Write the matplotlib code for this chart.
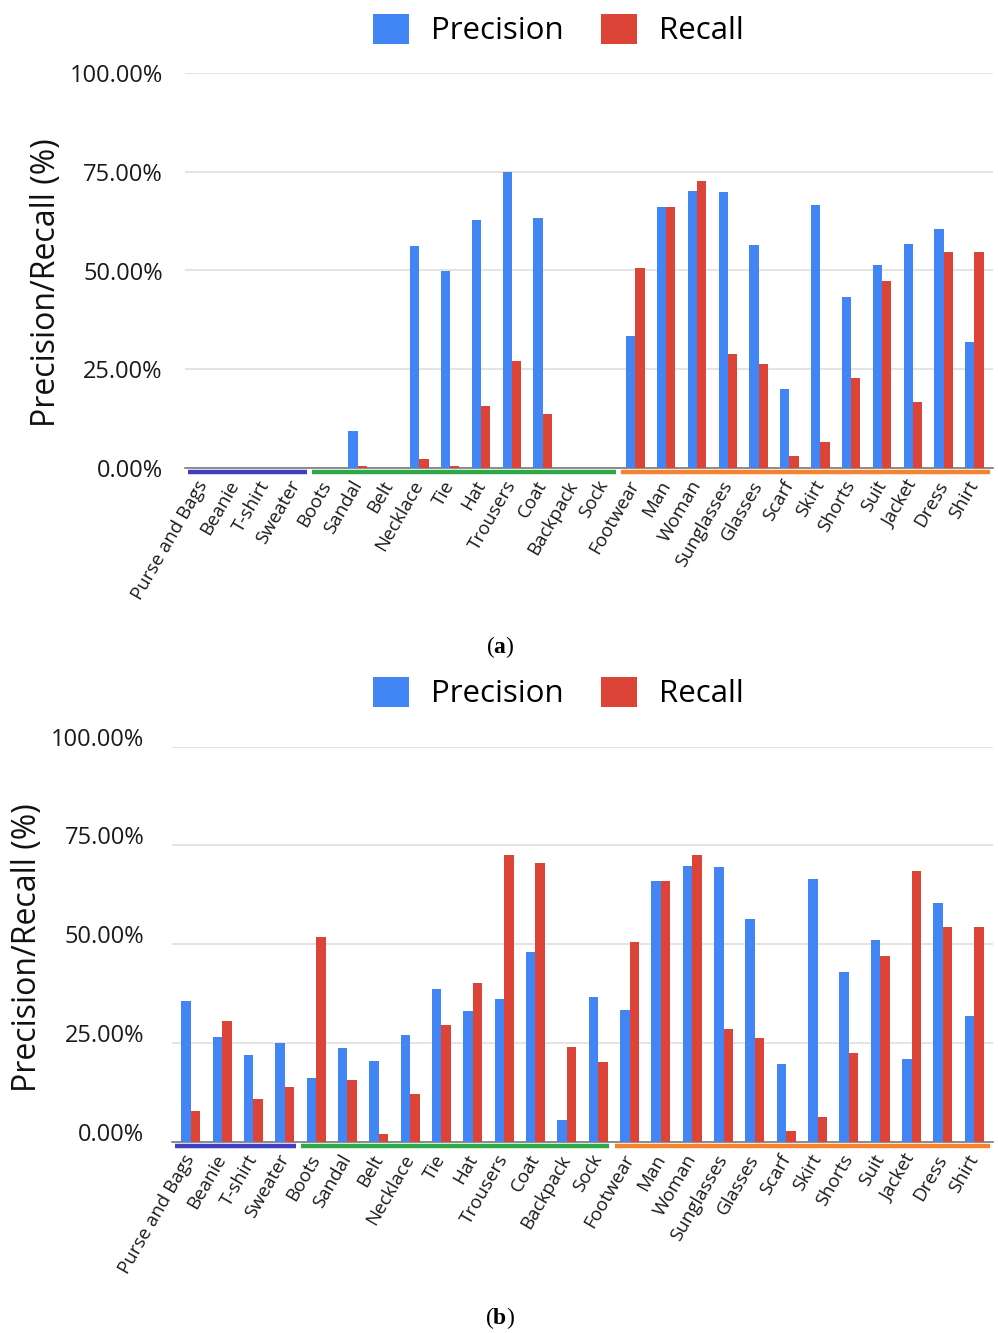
import matplotlib
matplotlib.use("Agg")
import matplotlib.pyplot as plt
import matplotlib.transforms as mtransforms
import numpy as np

plt.rcParams['font.family'] = ['Open Sans', 'DejaVu Sans']
plt.rcParams['mathtext.fontset'] = 'custom'
plt.rcParams['mathtext.bf'] = 'Liberation Serif:bold'

categories = ['Purse and Bags', 'Beanie', 'T-shirt', 'Sweater', 'Boots', 'Sandal', 'Belt',
              'Necklace', 'Tie', 'Hat', 'Trousers', 'Coat', 'Backpack', 'Sock', 'Footwear',
              'Man', 'Woman', 'Sunglasses', 'Glasses', 'Scarf', 'Skirt', 'Shorts', 'Suit',
              'Jacket', 'Dress', 'Shirt']

precision_a = [0, 0, 0, 0, 0, 9.3, 0, 56.1, 49.9, 62.9, 75.0, 63.2, 0, 0,
               33.5, 66.1, 70.1, 69.8, 56.4, 19.9, 66.5, 43.4, 51.5, 56.6, 60.6, 31.9]
recall_a = [0, 0, 0, 0, 0, 0.6, 0, 2.3, 0.6, 15.7, 27.2, 13.6, 0, 0,
            50.7, 66.1, 72.7, 28.8, 26.4, 3.0, 6.5, 22.8, 47.3, 16.7, 54.6, 54.6]

precision_b = [35.6, 26.5, 21.9, 25.0, 16.2, 23.8, 20.5, 27.0, 38.6, 33.1, 36.1, 48.0, 5.5, 36.6,
               33.3, 66.0, 69.8, 69.5, 56.3, 19.6, 66.5, 43.1, 51.0, 21.0, 60.4, 31.8]
recall_b = [7.8, 30.6, 10.8, 13.9, 51.8, 15.6, 2.1, 12.2, 29.7, 40.2, 72.6, 70.6, 24.0, 20.2,
            50.5, 66.0, 72.6, 28.5, 26.3, 2.8, 6.3, 22.5, 47.0, 68.5, 54.3, 54.3]

group_sizes = [4, 10, 12]
group_colors = ['#3f3fc0', '#2fa84a', '#f5822e']
yticks = [0, 25, 50, 75, 100]

BLUE = '#4285f4'
RED = '#db4437'


def disegna_pannello(ax, prec, rec, tick_pad, label_shift):
    x = np.arange(len(categories))
    w = 0.3
    ax.bar(x - w / 2, prec, width=w, color=BLUE, label='Precision', zorder=3)
    ax.bar(x + w / 2, rec, width=w, color=RED, label='Recall', zorder=3)
    ax.set_xlim(-0.6, len(categories) - 0.4)
    ax.set_ylim(0, 100)
    ax.set_yticks(yticks)
    ax.set_yticklabels([f'{v:.2f}%' for v in yticks], fontsize=17, color='#1a1a1a')
    ax.grid(axis='y', color='#dcdcdc', linewidth=1.1, zorder=0)
    ax.set_axisbelow(True)
    for s in ['top', 'right', 'left']:
        ax.spines[s].set_visible(False)
    ax.spines['bottom'].set_color('#7a7a7a')
    ax.spines['bottom'].set_linewidth(1.2)
    ax.tick_params(axis='y', length=0, pad=tick_pad)
    ax.tick_params(axis='x', length=0, pad=10)
    ax.set_xticks(x)
    ax.set_xticklabels(categories, rotation=60, ha='right', va='center',
                       rotation_mode='anchor', fontsize=13.5, color='#1a1a1a')
    if label_shift:
        off = mtransforms.ScaledTranslation(0, label_shift / 100, ax.figure.dpi_scale_trans)
        for lab in ax.get_yticklabels():
            lab.set_transform(lab.get_transform() + off)

    # linee colorate dei gruppi sotto l'asse
    start = -0.5
    for i, (n, c) in enumerate(zip(group_sizes, group_colors)):
        end = start + n
        x0 = start + (0.03 if i > 0 else 0.0)
        x1 = end - (0.14 if i < len(group_sizes) - 1 else 0.0)
        ax.plot([x0, x1], [-1.1, -1.1], color=c, linewidth=3.2,
                solid_capstyle='butt', clip_on=False, zorder=4)
        start = end


fig = plt.figure(figsize=(9.98, 13.33), dpi=100)

ax_a = fig.add_axes([185 / 998, 1 - 468 / 1333, 808 / 998, 395 / 1333])
disegna_pannello(ax_a, precision_a, recall_a, tick_pad=16, label_shift=0)

ax_b = fig.add_axes([172 / 998, 1 - 1142 / 1333, 821 / 998, 395.5 / 1333])
disegna_pannello(ax_b, precision_b, recall_b, tick_pad=20, label_shift=10)

for ax, ly in [(ax_a, 30), (ax_b, 693)]:
    ax.legend(loc='center', bbox_to_anchor=(558 / 998, 1 - ly / 1333),
              bbox_transform=fig.transFigure, ncol=2, frameon=False,
              fontsize=22.5, handlelength=1.15, handleheight=1.1,
              handletextpad=0.7, columnspacing=1.2)

fig.text(47 / 998, 1 - 283 / 1333, 'Precision/Recall (%)', rotation=90,
         ha='center', va='center', fontsize=23, color='#111111')
fig.text(28 / 998, 1 - 948 / 1333, 'Precision/Recall (%)', rotation=90,
         ha='center', va='center', fontsize=23, color='#111111')

fig.text(500 / 998, 1 - 647 / 1333, r'($\mathbf{a}$)', ha='center', va='center',
         fontsize=17, family='Liberation Serif')
fig.text(500 / 998, 1 - 1318 / 1333, r'($\mathbf{b}$)', ha='center', va='center',
         fontsize=17, family='Liberation Serif')

fig.savefig('out.png', dpi=100)
plt.close(fig)
